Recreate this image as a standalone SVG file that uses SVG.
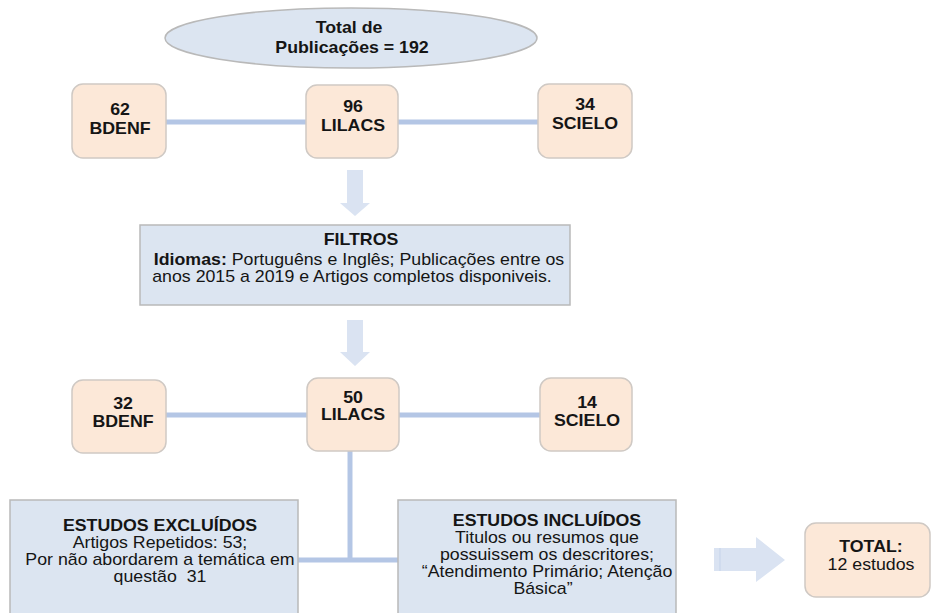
<svg xmlns="http://www.w3.org/2000/svg" width="933" height="613" viewBox="0 0 933 613">
<style>
text{font-family:"Liberation Sans",Arial,sans-serif;fill:#151515;text-anchor:middle;font-size:16px}
.b{font-weight:bold}
.peach{fill:#fce8d8;stroke:#cfc9c4;stroke-width:1.5}
.blue{fill:#dce5f1;stroke:#b9b9b9;stroke-width:1.5}
.con{stroke:#b4c6e5;stroke-width:5;fill:none}
.arr{fill:#dae3f2;stroke:none}
</style>
<rect width="933" height="613" fill="#fff"/>
<g id="connectors">
<line class="con" x1="165" y1="122" x2="306" y2="122"/>
<line class="con" x1="397" y1="122" x2="538" y2="122"/>
<line class="con" x1="166" y1="415" x2="308" y2="415"/>
<line class="con" x1="398" y1="415" x2="541" y2="415"/>
<line class="con" x1="350" y1="450" x2="350" y2="560"/>
<line class="con" x1="298" y1="560" x2="398" y2="560"/>
<path class="arr" d="M347,170 H363 V203 H370 L355,216 L340,203 H347 Z"/>
<path class="arr" d="M347,320 H363 V352 H370 L355,366 L340,352 H347 Z"/>
<path class="arr" d="M714,548 H756 V537 L785,560 L756,582 V571 H714 Z"/>
<line x1="720" y1="548" x2="720" y2="571" stroke="#c5d3ea" stroke-width="1"/>
</g>
<g id="total">
<ellipse cx="351" cy="38" rx="186" ry="30" class="blue"/>
<text class="b" transform="translate(349,33) scale(1.11,1)">Total de</text>
<text class="b" transform="translate(352,53) scale(1.11,1)">Publicações = 192</text>
</g>
<g id="bdenf1"><rect class="peach" x="72" y="84" width="94" height="74" rx="11"/>
<text class="b" transform="translate(120,115) scale(1.11,1)">62</text><text class="b" transform="translate(120,134) scale(1.11,1)">BDENF</text></g>
<g id="lilacs1"><rect class="peach" x="306" y="85" width="92" height="73" rx="11"/>
<text class="b" transform="translate(353,112) scale(1.11,1)">96</text><text class="b" transform="translate(353,131) scale(1.11,1)">LILACS</text></g>
<g id="scielo1"><rect class="peach" x="538" y="84" width="94" height="74" rx="11"/>
<text class="b" transform="translate(585,110) scale(1.11,1)">34</text><text class="b" transform="translate(585,129) scale(1.11,1)">SCIELO</text></g>
<g id="filtros"><rect class="blue" x="140" y="225" width="430" height="80"/>
<text class="b" transform="translate(361,245) scale(1.11,1)">FILTROS</text>
<text transform="translate(359,265) scale(1.11,1)"><tspan class="b">Idiomas:</tspan> Portuguêns e Inglês; Publicações entre os</text>
<text transform="translate(352,282) scale(1.11,1)">anos 2015 a 2019 e Artigos completos disponiveis.</text></g>
<g id="bdenf2"><rect class="peach" x="72" y="380" width="94" height="73" rx="11"/>
<text class="b" transform="translate(123,409) scale(1.11,1)">32</text><text class="b" transform="translate(123,427) scale(1.11,1)">BDENF</text></g>
<g id="lilacs2"><rect class="peach" x="307" y="378" width="92" height="73" rx="11"/>
<text class="b" transform="translate(353,403) scale(1.11,1)">50</text><text class="b" transform="translate(353,420) scale(1.11,1)">LILACS</text></g>
<g id="scielo2"><rect class="peach" x="540" y="378" width="92" height="73" rx="11"/>
<text class="b" transform="translate(587,408) scale(1.11,1)">14</text><text class="b" transform="translate(587,426) scale(1.11,1)">SCIELO</text></g>
<g id="excluidos"><rect class="blue" x="10" y="500" width="288" height="120"/>
<text class="b" transform="translate(160,531) scale(1.11,1)">ESTUDOS EXCLUÍDOS</text>
<text transform="translate(160,548) scale(1.11,1)">Artigos Repetidos: 53;</text>
<text transform="translate(160,565) scale(1.11,1)">Por não abordarem a temática em</text>
<text transform="translate(160,582) scale(1.11,1)" style="white-space:pre">questão  31</text></g>
<g id="incluidos"><rect class="blue" x="398" y="500" width="278" height="120"/>
<text class="b" transform="translate(547,526) scale(1.11,1)">ESTUDOS INCLUÍDOS</text>
<text transform="translate(547,543) scale(1.11,1)">Titulos ou resumos que</text>
<text transform="translate(547,560) scale(1.11,1)">possuissem os descritores;</text>
<text transform="translate(547,577) scale(1.11,1)">“Atendimento Primário; Atenção</text>
<text transform="translate(543,594) scale(1.11,1)">Básica”</text></g>
<g id="totalfinal"><rect class="peach" x="805" y="523" width="125" height="74" rx="11"/>
<text class="b" transform="translate(871,552) scale(1.11,1)">TOTAL:</text>
<text transform="translate(871,570) scale(1.11,1)">12 estudos</text></g>
</svg>
